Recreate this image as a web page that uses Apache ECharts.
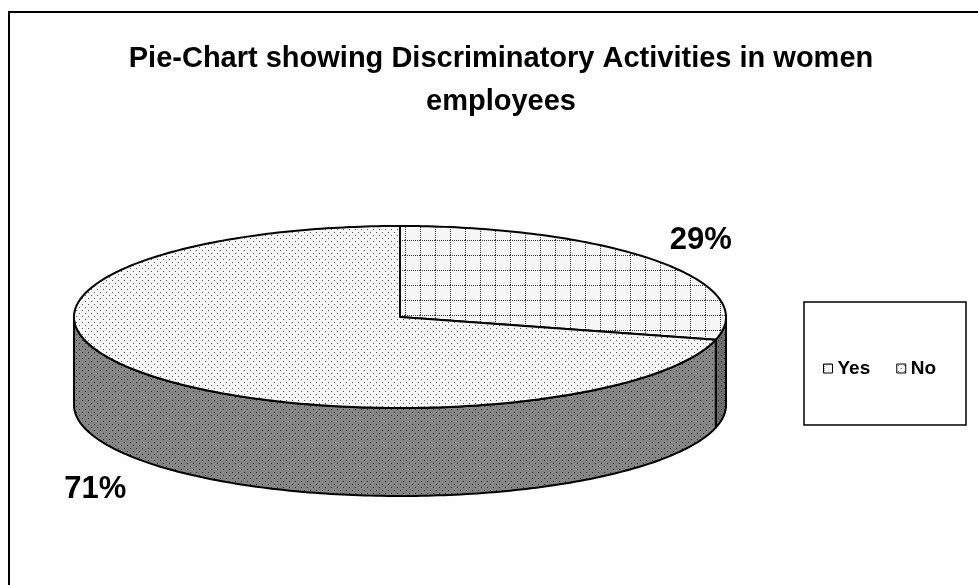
<!DOCTYPE html>
<html>
<head>
<meta charset="utf-8">
<script src="https://cdn.jsdelivr.net/npm/echarts@6/dist/echarts.min.js"></script>
<style>
  html, body { margin: 0; padding: 0; background: #fff; }
  #chart { width: 978px; height: 585px; }
</style>
</head>
<body>
<div id="chart"></div>
<script>
// Data
const titleText = 'Pie-Chart showing Discriminatory Activities in women\nemployees';
const categories = ['Yes', 'No'];
const shares = [29, 71];
const shareLabels = ['29%', '71%'];

const FONT = '"Liberation Sans", Arial, sans-serif';

// Fill patterns built on small canvases
function makePattern(w, h, draw) {
  const c = document.createElement('canvas');
  c.width = w; c.height = h;
  const ctx = c.getContext('2d');
  draw(ctx, w, h);
  return { image: c, repeat: 'repeat' };
}
function dotPattern(bg, dot) {
  return makePattern(6, 6, (ctx) => {
    ctx.fillStyle = bg; ctx.fillRect(0, 0, 6, 6);
    ctx.fillStyle = dot;
    ctx.fillRect(1, 1, 1, 1);
    ctx.fillRect(4, 4, 1, 1);
  });
}
const gridPattern = makePattern(15, 15, (ctx) => {
  ctx.fillStyle = '#f7f7f7'; ctx.fillRect(0, 0, 15, 15);
  ctx.fillStyle = '#333333';
  for (let i = 0; i < 15; i += 2) {
    ctx.fillRect(i, 0, 1, 1);
    ctx.fillRect(0, i, 1, 1);
  }
});
const topFills = [gridPattern, dotPattern('#f7f7f7', '#555555')];
const wallFills = [dotPattern('#6e6e6e', '#2a2a2a'), dotPattern('#858585', '#2e2e2e')];

// 3D pie geometry (screen pixels)
const PIE = { cx: 400, cy: 317, rx: 326, ry: 91, depth: 88 };

function pt(theta, dy) {
  const r = theta * Math.PI / 180;
  return [PIE.cx + PIE.rx * Math.sin(r), PIE.cy - PIE.ry * Math.cos(r) + (dy || 0)];
}
function arcPoints(a, b, dy) {
  const pts = [];
  const n = Math.max(2, Math.ceil(Math.abs(b - a)));
  for (let i = 0; i <= n; i++) pts.push(pt(a + (b - a) * i / n, dy));
  return pts;
}

const total = shares.reduce((s, v) => s + v, 0);
function sliceRange(idx) {
  let start = 0;
  for (let i = 0; i < idx; i++) start += shares[i] / total * 360;
  return [start, start + shares[idx] / total * 360];
}

function renderSlice(idx) {
  return function () {
    const [a, b] = sliceRange(idx);
    const children = [];
    // side wall: only the front half (90..270 degrees) is visible
    const wa = Math.max(a, 90), wb = Math.min(b, 270);
    if (wb > wa) {
      const upper = arcPoints(wa, wb, 0);
      const lower = arcPoints(wb, wa, PIE.depth);
      children.push({
        type: 'polygon',
        shape: { points: upper.concat(lower) },
        style: { fill: wallFills[idx], stroke: '#000', lineWidth: 2, lineJoin: 'round' }
      });
    }
    // top face
    const top = [[PIE.cx, PIE.cy]].concat(arcPoints(a, b, 0));
    children.push({
      type: 'polygon',
      shape: { points: top },
      style: { fill: topFills[idx], stroke: '#000', lineWidth: 2, lineJoin: 'round' }
    });
    // percentage label outside the slice
    const mid = (a + b) / 2;
    const mr = mid * Math.PI / 180;
    const lower = Math.cos(mr) < 0;
    const lx = PIE.cx + PIE.rx * 1.175 * Math.sin(mr) - 2;
    const ly = PIE.cy - PIE.ry * 1.45 * Math.cos(mr) + (lower ? PIE.depth : 0) + 4;
    children.push({
      type: 'text',
      style: {
        x: lx, y: ly, text: shareLabels[idx],
        fill: '#000', font: 'bold 31px ' + FONT,
        align: 'center', verticalAlign: 'middle'
      }
    });
    return { type: 'group', children: children };
  };
}

const series = categories.map((name, idx) => ({
  type: 'custom',
  name: name,
  coordinateSystem: 'none',
  data: [shares[idx]],
  itemStyle: { color: topFills[idx] },
  renderItem: renderSlice(idx),
  silent: true
}));

const chart = echarts.init(document.getElementById('chart'), null, { renderer: 'canvas' });
chart.setOption({
  backgroundColor: '#fff',
  animation: false,
  title: {
    text: titleText,
    left: 496,
    top: 32,
    textAlign: 'center',
    textStyle: {
      fontFamily: FONT,
      fontWeight: 'bold', fontSize: 29, lineHeight: 43, color: '#000'
    }
  },
  legend: {
    data: categories,
    left: 818,
    top: 354,
    icon: 'rect',
    itemWidth: 9,
    itemHeight: 9,
    itemGap: 26,
    itemStyle: { borderColor: '#000', borderWidth: 1 },
    textStyle: {
      fontFamily: FONT,
      fontWeight: 'bold', fontSize: 19, color: '#000'
    },
    selectedMode: false
  },
  graphic: [
    { type: 'rect', shape: { x: 9, y: 12, width: 1000, height: 600 },
      style: { fill: null, stroke: '#000', lineWidth: 2 }, z: 10, silent: true },
    { type: 'rect', shape: { x: 804, y: 302, width: 162, height: 123 },
      style: { fill: '#fff', stroke: '#000', lineWidth: 1.5 }, z: -1, silent: true }
  ],
  series: series
});
</script>
</body>
</html>
